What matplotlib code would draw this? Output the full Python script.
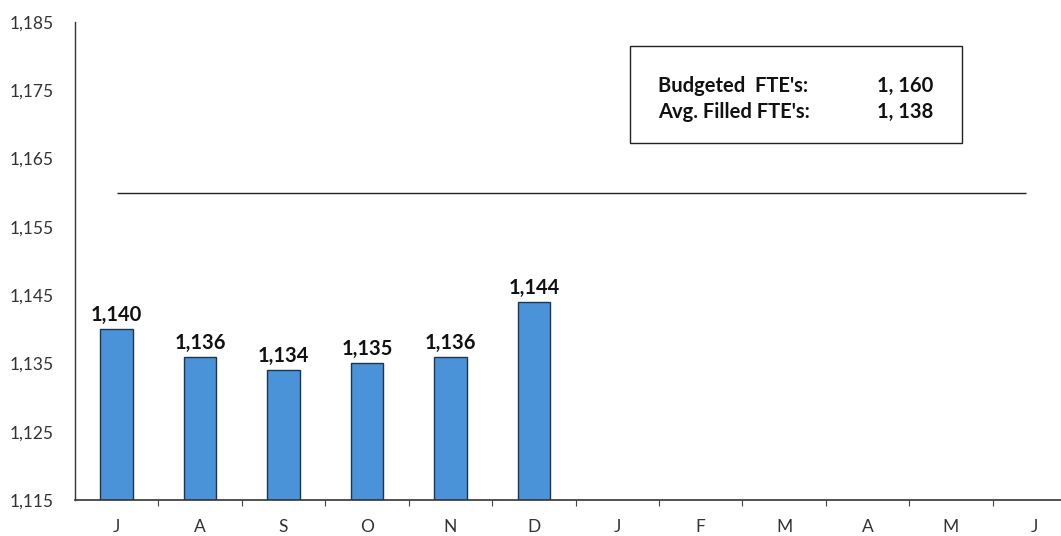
import matplotlib.pyplot as plt
from matplotlib.ticker import FuncFormatter, FixedLocator
from matplotlib.patches import Rectangle

months = ["J", "A", "S", "O", "N", "D", "J", "F", "M", "A", "M", "J"]
filled = [1140, 1136, 1134, 1135, 1136, 1144]
budget = 1160
avg_filled = 1138
y_ticks = [1115, 1125, 1135, 1145, 1155, 1165, 1175, 1185]

plt.rcParams['font.family'] = ['Lato', 'DejaVu Sans']

W, H = 1061, 536
fig = plt.figure(figsize=(W / 100, H / 100), dpi=100)
ax = fig.add_axes([75 / W, 36 / H, (W - 75) / W, 478 / H])

x = list(range(len(filled)))
ax.bar(x, filled, width=0.39, color="#4A93D8", edgecolor="#1E3550", linewidth=1.0, zorder=2)
for xi, v in zip(x, filled):
    ax.text(xi, v + 0.6, f"{v:,}", ha="center", va="bottom", fontsize=14.5, fontweight="bold", color="#111111")

ax.hlines(budget, 0, 10.9, color="#222222", linewidth=1.0, zorder=1)

ax.set_ylim(1115, 1185)
ax.set_xlim(-0.5, 11.32)
ax.set_yticks(y_ticks)
ax.yaxis.set_major_formatter(FuncFormatter(lambda v, p: f"{int(v):,}"))
ax.set_xticks(range(len(months)))
ax.set_xticklabels(months)
ax.xaxis.set_minor_locator(FixedLocator([i + 0.5 for i in range(11)]))
ax.tick_params(axis="x", which="major", length=0, pad=14, labelsize=12.5, colors="#333333")
ax.tick_params(axis="x", which="minor", length=4, width=0.8, color="#444444")
ax.tick_params(axis="y", length=0, pad=0, labelsize=12.5, colors="#333333")
for lbl in ax.get_yticklabels():
    lbl.set_horizontalalignment("left")
    lbl.set_x(-65 / 986)

for s in ["top", "right"]:
    ax.spines[s].set_visible(False)
ax.spines["left"].set_color("#333333")
ax.spines["bottom"].set_color("#333333")
ax.spines["left"].set_linewidth(1.0)
ax.spines["bottom"].set_linewidth(1.2)

# info box
box = Rectangle((630 / W, 1 - 143 / H), (962 - 630) / W, (143 - 46) / H, transform=fig.transFigure,
                fill=False, edgecolor="#222222", linewidth=1.0)
fig.patches.append(box)
fs = 14.5
fig.text(658 / W, 1 - 86 / H, "Budgeted  FTE's:", fontsize=fs, fontweight="bold", va="center", ha="left", color="#111111")
fig.text(658 / W, 1 - 112 / H, "Avg. Filled FTE's:", fontsize=fs, fontweight="bold", va="center", ha="left", color="#111111")
fig.text(933 / W, 1 - 86 / H, f"{budget:,}".replace(",", ", "), fontsize=fs, fontweight="bold", va="center", ha="right", color="#111111")
fig.text(933 / W, 1 - 112 / H, f"{avg_filled:,}".replace(",", ", "), fontsize=fs, fontweight="bold", va="center", ha="right", color="#111111")

fig.savefig("out.png", dpi=100)
